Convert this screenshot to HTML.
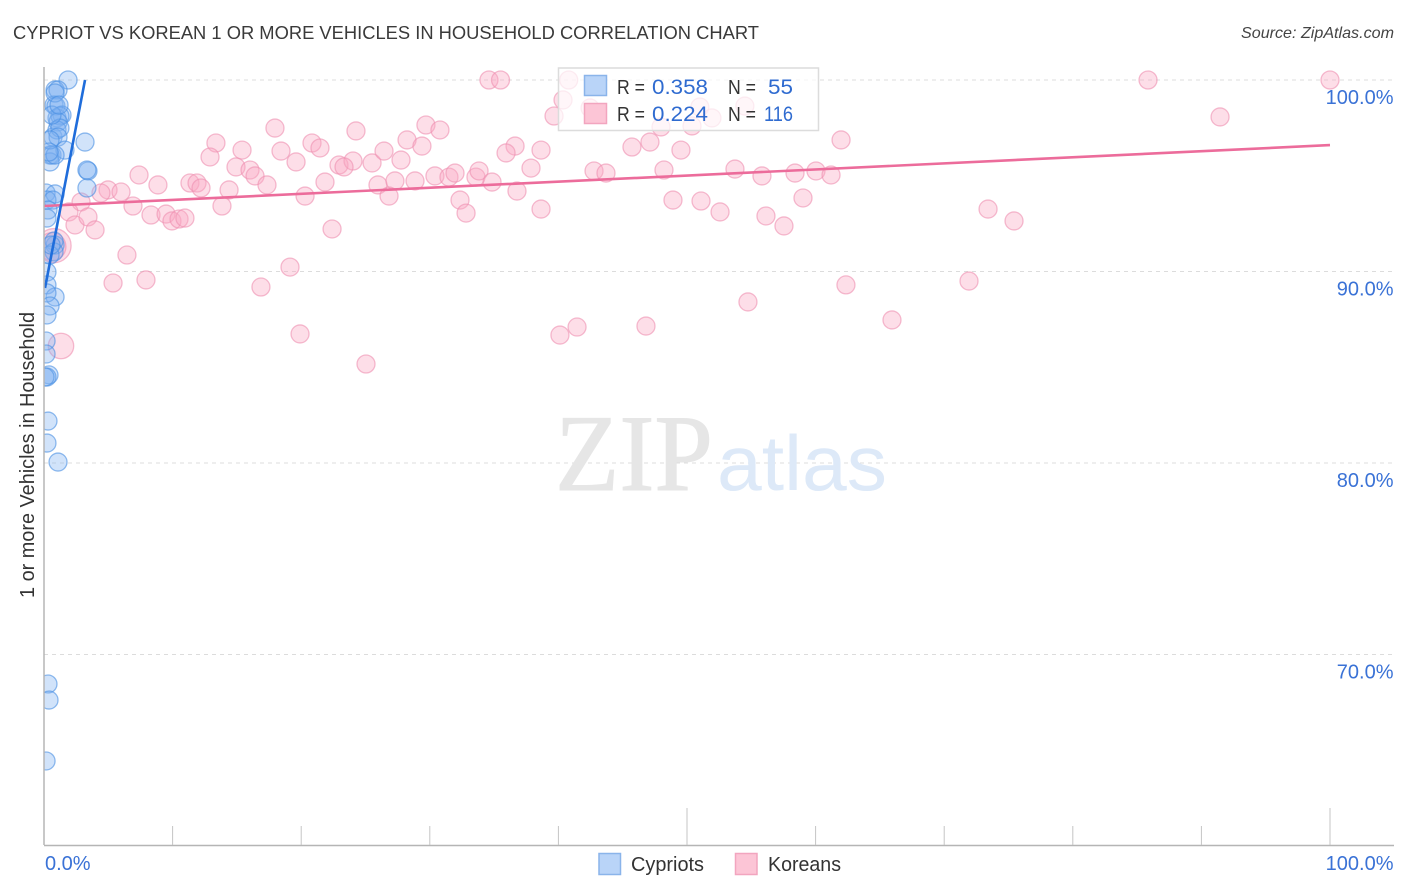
<!DOCTYPE html>
<html lang="en">
<head>
<meta charset="utf-8">
<title>Cypriot vs Korean 1 or more Vehicles in Household Correlation Chart</title>
<style>
html,body{margin:0;padding:0;background:#fff;}
body{width:1406px;height:892px;overflow:hidden;}
svg{display:block;font-family:"Liberation Sans",sans-serif;}
</style>
</head>
<body>
<svg id="chart" xmlns="http://www.w3.org/2000/svg" width="1406" height="892" viewBox="0 0 1406 892">
  <defs>
    <clipPath id="plot-clip"><rect x="44" y="60" width="1350" height="785"/></clipPath>
  </defs>
  <text x="13" y="39" font-size="18.5" fill="#3a3a3a" textLength="746" lengthAdjust="spacingAndGlyphs">CYPRIOT VS KOREAN 1 OR MORE VEHICLES IN HOUSEHOLD CORRELATION CHART</text>
  <text x="1394" y="38" font-size="16" font-style="italic" fill="#444" text-anchor="end" textLength="153" lengthAdjust="spacingAndGlyphs">Source: ZipAtlas.com</text>
  <g id="grid"></g>
  <g>
    <text x="555" y="490" font-family="'Liberation Serif',serif" font-size="109" fill="#e6e6e6" stroke="#e6e6e6" stroke-width="1" textLength="158" lengthAdjust="spacingAndGlyphs">ZIP</text>
    <text x="717" y="490" font-size="78" fill="#dde9f8" textLength="170" lengthAdjust="spacingAndGlyphs">atlas</text>
  </g>
  <g id="points" clip-path="url(#plot-clip)"></g>
  <g id="trends" clip-path="url(#plot-clip)"></g>
  <g id="axes"></g>
  <text transform="translate(34 455) rotate(-90)" font-size="20" fill="#333" text-anchor="middle" textLength="286" lengthAdjust="spacingAndGlyphs">1 or more Vehicles in Household</text>
  <g>
    <rect x="558.5" y="68" width="260" height="62.5" fill="#fff" fill-opacity="0.72" stroke="#dcdcdc" stroke-width="1.5"/>
    <rect x="584.5" y="75.5" width="22" height="20" fill="#b9d4f8" stroke="#8ab4ea" stroke-width="1.5"/>
    <rect x="584.5" y="103.5" width="22" height="20" fill="#fcc5d6" stroke="#f2a5bf" stroke-width="1.5"/>
    <text x="617" y="94" font-size="20.5" fill="#333" textLength="28" lengthAdjust="spacingAndGlyphs">R =</text>
    <text x="652" y="94" font-size="21" fill="#2f6bd0" textLength="56" lengthAdjust="spacingAndGlyphs">0.358</text>
    <text x="728" y="94" font-size="20.5" fill="#333" textLength="28" lengthAdjust="spacingAndGlyphs">N =</text>
    <text x="768" y="94" font-size="21" fill="#2f6bd0" textLength="25" lengthAdjust="spacingAndGlyphs">55</text>
    <text x="617" y="121" font-size="20.5" fill="#333" textLength="28" lengthAdjust="spacingAndGlyphs">R =</text>
    <text x="652" y="121" font-size="21" fill="#2f6bd0" textLength="56" lengthAdjust="spacingAndGlyphs">0.224</text>
    <text x="728" y="121" font-size="20.5" fill="#333" textLength="28" lengthAdjust="spacingAndGlyphs">N =</text>
    <text x="764" y="121" font-size="21" fill="#2f6bd0" textLength="29" lengthAdjust="spacingAndGlyphs">116</text>
  </g>
  <g>
    <rect x="599" y="853.5" width="21.5" height="21" fill="#b9d4f8" stroke="#8ab4ea" stroke-width="1.5"/>
    <text x="631" y="871" font-size="20" fill="#333" textLength="73" lengthAdjust="spacingAndGlyphs">Cypriots</text>
    <rect x="735.5" y="853.5" width="21.5" height="21" fill="#fcc5d6" stroke="#f2a5bf" stroke-width="1.5"/>
    <text x="768" y="871" font-size="20" fill="#333" textLength="73" lengthAdjust="spacingAndGlyphs">Koreans</text>
  </g>
</svg>
<script>
const yTickValues = [100, 90, 80, 70];
const yTickLabels = ["100.0%", "90.0%", "80.0%", "70.0%"];
const xTickValues = [10, 20, 30, 40, 50, 60, 70, 80, 90, 100];
const xMajorTicks = [50, 100];
const xEndValues = [0, 100];
const xEndLabels = ["0.0%", "100.0%"];

const cypriotX = [1.87,0.86,1.09,0.78,0.93,0.86,1.01,1.4,1.24,1.09,0.7,1.01,1.24,1.09,3.19,0.47,0.62,1.63,0.47,0.86,3.42,3.34,3.34,0.16,0.86,0.23,0.7,0.31,0.23,0.86,0.78,0.78,0.47,0.23,0.23,0.86,0.23,0.47,0.23,0.16,0.16,0.39,0.23,0.31,0.23,1.09,0.31,0.39,0.16,0.08,0.62,1.17,0.47,0.39,0.55];
const cypriotY = [100,99.48,99.48,98.69,98.64,99.32,98.02,98.17,98.12,97.81,97.02,97.39,97.49,97.02,96.76,96.08,96.08,96.34,95.72,96.08,95.25,95.3,94.36,94.1,94.05,93.73,93.73,93.21,92.79,91.38,91.59,91.02,90.86,89.97,89.3,88.67,88.88,88.2,87.73,86.37,85.69,84.6,84.49,82.19,81.04,80.05,68.46,67.62,64.44,84.49,98.17,98.69,96.87,96.24,91.38];

const koreanX = [34.6,35.5,40.8,85.85,100,91.45,40.36,39.66,42.46,51,54.5,51.94,47.98,50.39,17.96,24.26,29.7,30.79,13.37,20.84,21.46,28.23,29.39,36.63,38.65,35.93,45.72,47.12,49.53,61.98,12.91,15.4,18.43,19.6,22.94,24.03,25.51,27.76,26.44,23.33,14.93,16.02,16.41,7.39,8.86,11.35,11.9,12.21,14.39,17.34,21.85,25.97,27.29,28.85,30.4,31.49,31.96,33.59,33.83,34.84,37.87,42.77,43.7,48.21,53.73,55.83,58.4,60.03,61.2,4.98,4.43,5.99,6.92,8.32,9.49,9.95,10.5,10.96,13.84,20.3,26.83,32.35,36.78,38.65,32.82,48.91,51.09,52.57,56.14,57.54,59.02,73.41,75.43,22.4,2.88,1.94,2.41,3.42,3.97,6.45,5.37,7.93,16.87,19.13,19.91,25.04,40.12,41.45,46.81,54.74,62.36,65.94,71.93,0.78,1.32,0.62];
const koreanY = [100,100,100,100,100,98.07,98.96,98.12,98.54,98.59,98.64,98.02,97.55,97.6,97.49,97.34,97.65,97.39,96.71,96.71,96.45,96.87,96.55,96.55,96.34,96.19,96.5,96.76,96.34,96.87,95.98,96.34,96.29,95.72,95.56,95.77,95.67,95.82,96.29,95.46,95.46,95.3,94.99,95.04,94.52,94.62,94.62,94.36,94.26,94.52,94.67,94.52,94.73,94.73,94.99,94.93,95.14,94.93,95.25,94.67,95.4,95.25,95.14,95.3,95.35,94.99,95.14,95.25,95.04,94.26,94.1,94.15,93.42,92.95,93,92.64,92.74,92.79,93.42,93.94,93.94,93.73,94.2,93.26,93.05,93.73,93.68,93.11,92.9,92.38,93.84,93.26,92.64,92.22,93.63,93.11,92.43,92.85,92.17,90.86,89.4,89.56,89.19,90.23,86.74,85.17,86.68,87.1,87.15,88.41,89.3,87.47,89.5,91.35,86.11,91.3];
const koreanLargeIndex = [113, 114, 115];
const koreanLargeWeight = [3.6, 2, 2.4];

const cypriotTrendX = [0.08, 3.19];
const cypriotTrendY = [89.14, 100];
const koreanTrendX = [0, 100];
const koreanTrendY = [93.42, 96.6];

const NS = "http://www.w3.org/2000/svg";
const sx = v => 44 + v * 12.86;
const sy = v => 80 + (100 - v) * 19.15;

function make(tag, attrs, parent, txt) {
  const el = document.createElementNS(NS, tag);
  for (const k in attrs) el.setAttribute(k, attrs[k]);
  if (txt !== undefined) el.textContent = txt;
  parent.appendChild(el);
  return el;
}

const grid = document.getElementById("grid");
const axes = document.getElementById("axes");
const points = document.getElementById("points");
const trends = document.getElementById("trends");

yTickValues.forEach((v, i) => {
  const line = make("line", {x1: 44, x2: 1394, y1: sy(v), y2: sy(v), stroke: "#dcdcdc", "stroke-width": 1, "stroke-dasharray": "4 4"}, grid);
  
  
  const label = make("text", {x: 1393.5, y: sy(v) + 24, "font-size": 20, fill: "#3a72d6", "text-anchor": "end"}, axes, yTickLabels[i]);
  
  
});

const yAxis = make("line", {x1: 44, x2: 44, y1: 67, y2: 845, stroke: "#b5b5b5", "stroke-width": 1.5}, axes);


const xAxis = make("line", {x1: 44, x2: 1394, y1: 845.5, y2: 845.5, stroke: "#b5b5b5", "stroke-width": 1.5}, axes);



xTickValues.forEach(v => {
  const top = xMajorTicks.includes(v) ? 808 : 826;
  const tick = make("line", {x1: sx(v), x2: sx(v), y1: top, y2: 845, stroke: "#c4c4c4", "stroke-width": 1}, axes);
  
  
});

xEndValues.forEach((v, i) => {
  const anchor = i === 0 ? "start" : "end";
  const px = i === 0 ? sx(v) + 1 : 1393.5;
  const label = make("text", {x: px, y: 870, "font-size": 20, fill: "#3a72d6", "text-anchor": anchor}, axes, xEndLabels[i]);
  
  
});

koreanX.forEach((x, i) => {
  const at = koreanLargeIndex.indexOf(i);
  const weight = at >= 0 ? koreanLargeWeight[at] : 1;
  const c = make("circle", {cx: sx(x), cy: sy(koreanY[i]), r: 9 * Math.sqrt(weight), fill: "#f9a8c2", "fill-opacity": 0.38, stroke: "#ee8fb0", "stroke-opacity": 0.6, "stroke-width": 1.3}, points);
  
  
});

cypriotX.forEach((x, i) => {
  const c = make("circle", {cx: sx(x), cy: sy(cypriotY[i]), r: 9, fill: "#7fb2f0", "fill-opacity": 0.36, stroke: "#4a90e2", "stroke-opacity": 0.6, "stroke-width": 1.3}, points);
  
  
});

const koreanTrend = make("line", {x1: sx(koreanTrendX[0]), y1: sy(koreanTrendY[0]), x2: sx(koreanTrendX[1]), y2: sy(koreanTrendY[1]), stroke: "#ec6c9b", "stroke-width": 2.6}, trends);


const cypriotTrend = make("line", {x1: sx(cypriotTrendX[0]), y1: sy(cypriotTrendY[0]), x2: sx(cypriotTrendX[1]), y2: sy(cypriotTrendY[1]), stroke: "#1f6ddb", "stroke-width": 2.6}, trends);


</script>
</body>
</html>
